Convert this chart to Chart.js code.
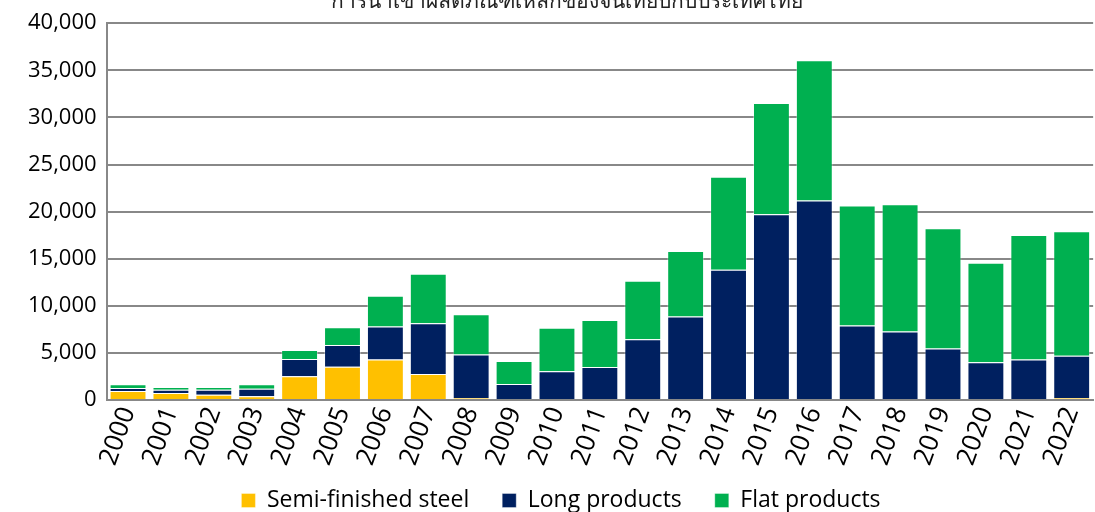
<!DOCTYPE html>
<html>
<head>
<meta charset="utf-8">
<script src="https://cdn.jsdelivr.net/npm/chart.js@4.4.1/dist/chart.umd.min.js"></script>
<style>
  html,body{margin:0;padding:0;background:#fff;overflow:hidden;}
  #wrap{position:relative;width:1104px;height:512px;}
  #title{position:absolute;left:0;width:1134px;top:-16px;text-align:center;font:21px "Noto Sans","DejaVu Sans",sans-serif;color:#222;white-space:nowrap;}
</style>
</head>
<body>
<div id="wrap">
  <canvas id="chart"></canvas>
  <div id="title">การนำเข้าผลิตภัณฑ์เหล็กของจีนเทียบกับประเทศไทย</div>
</div>
<script>
// ปี
const years = ['2000','2001','2002','2003','2004','2005','2006','2007','2008','2009','2010','2011',
  '2012','2013','2014','2015','2016','2017','2018','2019','2020','2021','2022'];
// ค่าแต่ละชุด (อ่านจากภาพ)
const semiFinished = [960,740,560,390,2520,3540,4290,2770,200,0,0,0,0,0,0,0,0,0,0,0,0,0,200];
const longProducts = [320,360,540,810,1840,2310,3510,5390,4620,1700,3050,3510,6460,8870,13830,19720,21170,7910,7270,5460,4010,4290,4510];
const flatProducts = [390,280,280,470,960,1880,3260,5240,4290,2450,4610,4970,6200,6950,9860,11800,14890,12730,13510,12770,10560,13230,13200];
const seriesNames = ['Semi-finished steel','Long products','Flat products'];
const yTicks = [0,5000,10000,15000,20000,25000,30000,35000,40000];

const font = '"Open Sans", "Liberation Sans", sans-serif';
Chart.defaults.font.family = font;
Chart.defaults.color = '#000';

function ds(label, data, color){
  return {label, data, backgroundColor:color, borderColor:'rgba(255,255,255,0.35)', borderWidth:1,
    barPercentage:0.86, categoryPercentage:1};
}

const ctx = document.getElementById('chart').getContext('2d');
new Chart(ctx, {
  type:'bar',
  data:{labels:years, datasets:[
    ds(seriesNames[0], semiFinished, '#FFC000'),
    ds(seriesNames[1], longProducts, '#002060'),
    ds(seriesNames[2], flatProducts, '#00B050')
  ]},
  options:{
    responsive:true, maintainAspectRatio:false, animation:false,
    layout:{padding:{top:10,left:18,right:0,bottom:-10}},
    plugins:{
      legend:{position:'bottom', labels:{boxWidth:14, boxHeight:14, padding:33, font:{size:23}}},
      tooltip:{enabled:false}
    },
    scales:{
      x:{stacked:true, grid:{display:false, drawTicks:false}, border:{color:'#888', width:2},
        ticks:{maxRotation:70, minRotation:70, font:{size:26}, padding:3},
        // ให้ป้ายปีล้นลงไปถึงคำอธิบายได้ ไม่ถูกตัด
        afterFit:s=>{s.height=56; s._computeLabelArea=()=>undefined;}},
      y:{stacked:true, min:0, max:40000, afterBuildTicks:a=>{a.ticks=yTicks.map(v=>({value:v}));},
        grid:{color:'#888', lineWidth:2, drawTicks:false}, border:{color:'#888', width:2},
        ticks:{font:{size:22}, padding:10, callback:v=>v.toLocaleString('en-US')}}
    }
  }
});
</script>
</body>
</html>
